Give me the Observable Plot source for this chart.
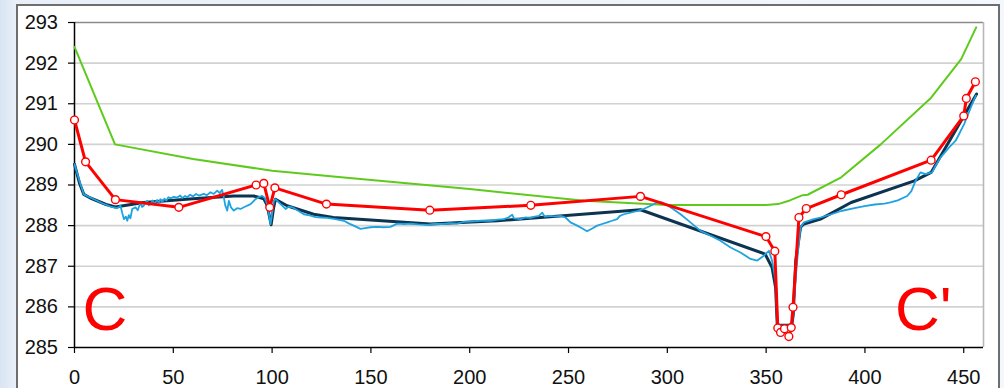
<!DOCTYPE html>
<html>
<head>
<meta charset="utf-8">
<script src="https://cdn.jsdelivr.net/npm/d3@7"></script>
<script src="https://cdn.jsdelivr.net/npm/@observablehq/plot@0.6"></script>
<style>
  html, body { margin: 0; padding: 0; width: 1004px; height: 388px; overflow: hidden;
    background: linear-gradient(90deg, #d9e5f3 0px, #e8eff8 16px, #f4f7fb 100%); }
  #panel { position: absolute; left: 16px; top: 4px; width: 984px; height: 400px;
    background: #ffffff; border: 2px solid #6e6e6e; box-sizing: border-box; }
  #chart { position: absolute; left: 0; top: 0; }
</style>
</head>
<body>
<div id="panel"></div>
<div id="chart"></div>
<script>
const xTicks = [0, 50, 100, 150, 200, 250, 300, 350, 400, 450];
const yTicks = [285, 286, 287, 288, 289, 290, 291, 292, 293];
const xDomain = [0, 460];
const yDomain = [285, 293];

const greenSeries = [
  [0, 292.4], [20.5, 290.0], [60, 289.64], [100, 289.35], [135, 289.19], [200, 288.9],
  [258, 288.61], [300, 288.51], [350, 288.51], [356, 288.53], [362, 288.62], [368.5, 288.75],
  [371, 288.76], [388, 289.19], [408, 290.0], [433.5, 291.15], [448.7, 292.1], [456.3, 292.88]
];

const redSeries = [
  [0, 290.6], [5.6, 289.57], [20.7, 288.64], [52.8, 288.45], [91.9, 289.0], [95.8, 289.04],
  [98.8, 288.45], [101.4, 288.93], [127.5, 288.53], [179.8, 288.38], [230.9, 288.5],
  [286.4, 288.72], [349.9, 287.73], [354.4, 287.37], [355.9, 285.48], [357.3, 285.37],
  [359.3, 285.46], [361.5, 285.27], [362.7, 285.49], [363.6, 285.99], [366.6, 288.2],
  [370.3, 288.42], [388, 288.76], [433.5, 289.61], [450, 290.7], [451.3, 291.13], [455.9, 291.54]
];

const navySeries = [
  [0, 289.51], [2.5, 289.05], [4.7, 288.77], [8, 288.68], [12, 288.6], [16, 288.52], [20.7, 288.46],
  [35, 288.57], [60, 288.66], [80.6, 288.73], [90.7, 288.73], [95.8, 288.66], [97.5, 288.5],
  [99.5, 288.02], [100.8, 288.45], [101.7, 288.65], [107.6, 288.49], [121, 288.28], [131, 288.2],
  [180, 288.04], [214, 288.12], [286.4, 288.39], [349.5, 287.3], [353, 286.97], [354.8, 286.48],
  [355.6, 285.58], [356.5, 285.55], [363, 285.55], [363.7, 285.8], [365, 287.14], [367.4, 287.96],
  [369.1, 288.04], [377.5, 288.16], [393, 288.57], [425, 289.1], [433.5, 289.31], [456.5, 291.24]
];

const blueSeries = [
  [0, 289.51], [2.5, 289.1], [4.7, 288.77], [9.8, 288.65], [14, 288.55], [18.2, 288.47], [21.6, 288.43],
  [23.3, 288.49], [24.1, 288.32], [25, 288.16], [26, 288.22], [26.7, 288.12], [27.5, 288.26], [28.3, 288.18],
  [29.2, 288.41], [30.9, 288.45], [32, 288.38], [33.4, 288.57], [34.2, 288.46], [35, 288.49], [36, 288.58],
  [36.8, 288.61], [37.6, 288.5], [38.5, 288.53], [39.5, 288.62], [40.5, 288.54], [41.8, 288.63],
  [42.6, 288.56], [43.5, 288.65], [44.4, 288.58], [45.5, 288.66], [46.5, 288.62], [47.5, 288.7],
  [48.6, 288.67], [50.2, 288.71], [52, 288.69], [53.5, 288.74], [54.5, 288.68], [56, 288.73],
  [57, 288.7], [58.5, 288.76], [60, 288.72], [61.5, 288.78], [63, 288.74], [65.4, 288.78],
  [67, 288.75], [68.8, 288.82], [70.5, 288.78], [72.2, 288.86], [73.5, 288.8], [74.7, 288.88],
  [75.6, 288.69], [76.3, 288.5], [77.3, 288.37], [78.1, 288.61], [79.2, 288.45], [80.6, 288.37],
  [82.3, 288.43], [84, 288.41], [86.5, 288.47], [89.1, 288.53], [91.6, 288.65], [93.2, 288.7],
  [95, 288.73], [96.3, 288.68], [97.5, 288.53], [98.5, 288.25], [99.2, 288.04], [100, 288.3],
  [100.9, 288.61], [101.7, 288.65], [103.4, 288.57], [105, 288.5], [106.8, 288.41], [108.5, 288.47],
  [110.2, 288.45], [113, 288.37], [116, 288.28], [119, 288.25], [122, 288.21], [125, 288.2],
  [127.9, 288.19], [132, 288.16], [136.3, 288.12], [139, 288.05], [141.3, 288.0], [144.7, 287.92],
  [147, 287.94], [149.8, 287.96], [153, 287.97], [156.5, 287.96], [159.9, 287.97], [163.3, 288.05],
  [167, 288.04], [170, 288.05], [174, 288.03], [178.5, 288.02], [182, 288.04], [186.9, 288.04],
  [190, 288.06], [193.7, 288.05], [197, 288.09], [200.4, 288.1], [205.5, 288.12], [210.5, 288.12],
  [214, 288.15], [217.3, 288.16], [219.5, 288.2], [221.5, 288.27], [222.4, 288.18], [225.7, 288.16],
  [228, 288.2], [230.8, 288.19], [233, 288.22], [235, 288.24], [236.7, 288.32], [238, 288.22],
  [240.9, 288.24], [243, 288.23], [246, 288.24], [248.5, 288.2], [251, 288.08], [254.4, 288.0],
  [257, 287.93], [259.4, 287.86], [262, 287.93], [264.5, 288.0], [267, 288.04], [269.6, 288.08],
  [272, 288.12], [274.6, 288.16], [276, 288.24], [278, 288.28], [281.4, 288.32], [284.8, 288.36],
  [288.1, 288.41], [291.5, 288.49], [294.9, 288.57], [297.4, 288.57], [301.6, 288.45], [306.7, 288.28],
  [311.7, 288.08], [316.8, 287.87], [321.9, 287.75], [326.9, 287.63], [332, 287.46], [337, 287.34],
  [342.1, 287.18], [345.5, 287.14], [348.8, 287.26], [351.4, 287.38], [353, 287.14], [354.8, 286.64],
  [355.6, 285.66], [356.5, 285.54], [361.5, 285.54], [363.2, 285.6], [364, 286.15], [365.7, 287.14],
  [367.4, 287.96], [369.1, 288.08], [374.1, 288.16], [377.5, 288.2], [383, 288.28], [388, 288.36],
  [394.7, 288.43], [399.8, 288.48], [405, 288.52], [409.9, 288.54], [412.9, 288.57], [416.6, 288.62],
  [421.4, 288.73], [423.5, 288.85], [425.6, 289.1], [428.1, 289.31], [430.6, 289.27], [434, 289.31],
  [436, 289.5], [438.3, 289.68], [442.5, 289.92], [445.9, 290.09], [447.6, 290.25], [450.2, 290.5],
  [453.6, 290.91], [456.1, 291.2]
];

const cornerLabels = ["C", "C'"];

const X = d => d[0], Y = d => d[1];
const gridValues = yTicks.filter(v => v !== yDomain[0] && v !== yDomain[1]);

const chart = Plot.plot({
  width: 1004,
  height: 388,
  marginLeft: 74,
  marginTop: 22,
  marginRight: 21,
  marginBottom: 41,
  x: { domain: xDomain },
  y: { domain: yDomain },
  style: { background: "transparent", fontFamily: "'Liberation Sans', Arial, sans-serif", fontSize: "20px", color: "#111" },
  marks: [
    Plot.ruleY(gridValues, { stroke: "#d2d2d2", strokeWidth: 1.6 }),
    Plot.ruleY([yDomain[1]], { stroke: "#8a8a8a", strokeWidth: 1.6 }),
    Plot.ruleX([xDomain[1]], { stroke: "#b8b8b8", strokeWidth: 1.6 }),
    Plot.axisX({ ticks: xTicks, tickSize: 6, tickPadding: 16, fontSize: 20, stroke: "#000", strokeWidth: 1.2, label: null }),
    Plot.axisY({ ticks: yTicks, tickSize: 6, tickPadding: 10.5, fontSize: 20, stroke: "#000", strokeWidth: 1.2, label: null }),
    Plot.ruleX([xDomain[0]], { stroke: "#000", strokeWidth: 1.5 }),
    Plot.ruleY([yDomain[0]], { stroke: "#000", strokeWidth: 1.5 }),
    Plot.line(greenSeries, { x: X, y: Y, stroke: "#5ecb1c", strokeWidth: 2 }),
    Plot.line(navySeries, { x: X, y: Y, stroke: "#0c3450", strokeWidth: 3 }),
    Plot.line(blueSeries, { x: X, y: Y, stroke: "#1ea3e0", strokeWidth: 1.8 }),
    Plot.line(redSeries, { x: X, y: Y, stroke: "#ff0000", strokeWidth: 3 }),
    Plot.dot(redSeries, { x: X, y: Y, r: 3.9, fill: "#ffffff", stroke: "#ff0000", strokeWidth: 1.4 }),
    Plot.text([cornerLabels[0]], { text: d => d, frameAnchor: "bottom-left", textAnchor: "start", lineAnchor: "middle",
      dx: 8, dy: -37, fontSize: 62, fill: "#ff0000" }),
    Plot.text([cornerLabels[1]], { text: d => d, frameAnchor: "bottom-right", textAnchor: "end", lineAnchor: "middle",
      dx: -32, dy: -37, fontSize: 62, fill: "#ff0000" })
  ]
});
document.getElementById("chart").appendChild(chart);
</script>
</body>
</html>
